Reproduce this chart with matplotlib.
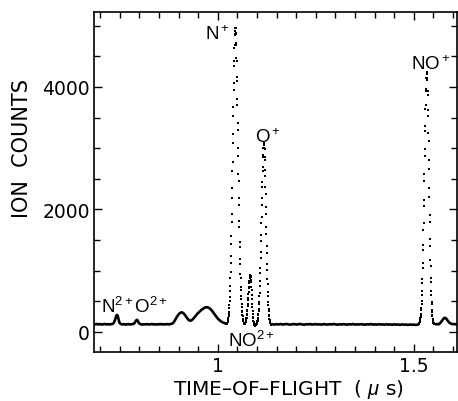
import numpy as np
import matplotlib
matplotlib.use('Agg')
import matplotlib.pyplot as plt
from matplotlib.ticker import MultipleLocator

plt.rcParams['font.family'] = ['DejaVu Sans']
plt.rcParams['mathtext.fontset'] = 'custom'
plt.rcParams['mathtext.rm'] = 'Liberation Sans'
plt.rcParams['mathtext.it'] = 'Liberation Sans:italic'

# slow part of the trace, drawn as a thick line (time in us, counts)
# left of N+ : N2+, O2+ and the two broad bumps
left_t = [0.684, 0.688, 0.692, 0.696, 0.700, 0.704, 0.708, 0.712, 0.716, 0.720,
          0.724, 0.728, 0.732, 0.735, 0.738, 0.741, 0.743, 0.745, 0.747, 0.749,
          0.752, 0.756, 0.760, 0.764, 0.768, 0.772, 0.776, 0.780, 0.784, 0.787,
          0.790, 0.793, 0.795, 0.797, 0.800, 0.804, 0.808, 0.812, 0.816, 0.820,
          0.824, 0.828, 0.832, 0.836, 0.840, 0.844, 0.848, 0.852, 0.856, 0.860,
          0.864, 0.868, 0.872, 0.876, 0.880, 0.884, 0.888, 0.892, 0.896, 0.900,
          0.904, 0.908, 0.912, 0.916, 0.920, 0.924, 0.928, 0.932, 0.936, 0.940,
          0.944, 0.948, 0.952, 0.956, 0.960, 0.964, 0.968, 0.972, 0.976, 0.980,
          0.984, 0.988, 0.992, 0.996, 1.000, 1.004, 1.008, 1.012, 1.016, 1.020]
left_c = [125, 122, 128, 120, 126, 118, 124, 127, 121, 125,
          119, 126, 130, 150, 200, 262, 276, 250, 195, 150,
          128, 120, 125, 118, 122, 126, 119, 124, 127, 140,
          170, 195, 190, 160, 132, 122, 118, 124, 121, 126,
          119, 123, 127, 120, 124, 118, 125, 121, 127, 119,
          124, 122, 126, 121, 128, 135, 160, 205, 250, 285,
          310, 318, 305, 275, 238, 203, 182, 185, 205, 235,
          265, 295, 322, 345, 368, 385, 398, 402, 395, 378,
          352, 318, 282, 248, 215, 190, 170, 155, 146, 135]

# flat stretch between O+ and NO+
mid_t = [1.140, 1.145, 1.150, 1.155, 1.160, 1.165, 1.170, 1.175, 1.180, 1.185,
         1.190, 1.195, 1.200, 1.205, 1.210, 1.215, 1.220, 1.225, 1.230, 1.235,
         1.240, 1.245, 1.250, 1.255, 1.260, 1.265, 1.270, 1.275, 1.280, 1.285,
         1.290, 1.295, 1.300, 1.305, 1.310, 1.315, 1.320, 1.325, 1.330, 1.335,
         1.340, 1.345, 1.350, 1.355, 1.360, 1.365, 1.370, 1.375, 1.380, 1.385,
         1.390, 1.395, 1.400, 1.405, 1.410, 1.415, 1.420, 1.425, 1.430, 1.435,
         1.440, 1.445, 1.450, 1.455, 1.460, 1.465, 1.470, 1.475, 1.480, 1.485,
         1.490, 1.495, 1.500, 1.505, 1.510]
mid_c = [122, 118, 125, 120, 127, 119, 123, 128, 121, 117,
         124, 126, 119, 123, 128, 120, 116, 124, 121, 127,
         118, 122, 125, 119, 123, 117, 126, 121, 118, 124,
         120, 127, 122, 116, 123, 119, 125, 121, 117, 124,
         120, 126, 118, 122, 119, 125, 121, 116, 123, 120,
         126, 118, 122, 117, 124, 119, 121, 116, 123, 118,
         120, 115, 122, 117, 119, 114, 121, 116, 118, 113,
         119, 115, 117, 112, 118]

# tail after NO+
right_t = [1.5575, 1.5600, 1.5625, 1.5650, 1.5675, 1.5700, 1.5725, 1.5750,
           1.5775, 1.5800, 1.5825, 1.5850, 1.5875, 1.5900, 1.5925, 1.5950,
           1.5975, 1.6000, 1.6025, 1.6050, 1.6075, 1.6100, 1.6130]
right_c = [124, 128, 121, 130, 145, 165, 188, 210,
           226, 228, 215, 195, 172, 152, 140, 132,
           128, 124, 127, 122, 125, 121, 124]

# fast peaks, one count per time channel
bin_width = 0.0005
cluster_t0 = 1.0220   # N+, NO2+, O+
cluster_c = [128, 126, 127, 131, 136, 143, 156, 165, 186, 203,
             232, 255, 298, 328, 386, 434, 510, 568, 672, 746,
             874, 970, 1131, 1242, 1436, 1561, 1795, 1932, 2190, 2342,
             2630, 2781, 3085, 3228, 3531, 3667, 3958, 4072, 4336, 4421,
             4640, 4690, 4856, 4860, 4965, 4915, 4970, 4870, 4880, 4712,
             4690, 4480, 4420, 4170, 4090, 3810, 3700, 3410, 3300, 3000,
             2870, 2580, 2460, 2180, 2070, 1810, 1710, 1475, 1390, 1190,
             1105, 945, 875, 740, 682, 578, 530, 448, 412, 347,
             322, 270, 255, 214, 208, 176, 172, 148, 149, 132,
             138, 124, 130, 122, 131, 126, 137, 139, 152, 156,
             176, 188, 218, 232, 270, 290, 336, 364, 418, 450,
             512, 546, 612, 645, 712, 740, 802, 823, 873, 884,
             920, 914, 935, 916, 902, 848, 812, 734, 682, 596,
             540, 456, 408, 336, 298, 242, 218, 180, 168, 140,
             136, 117, 118, 106, 112, 101, 109, 100, 110, 104,
             113, 106, 120, 116, 131, 127, 147, 148, 174, 181,
             214, 225, 268, 290, 347, 378, 448, 492, 582, 641,
             755, 826, 962, 1048, 1205, 1302, 1480, 1582, 1772, 1880,
             2075, 2178, 2368, 2455, 2635, 2700, 2850, 2890, 3005, 3010,
             3085, 3050, 3075, 3000, 2985, 2860, 2800, 2640, 2550, 2360,
             2250, 2045, 1925, 1720, 1600, 1400, 1290, 1115, 1015, 865,
             780, 655, 592, 492, 443, 368, 334, 276, 252, 210,
             196, 166, 160, 140, 136, 124, 126, 118, 120, 116, 121]
no_t0 = 1.5120        # NO+
no_c = [129, 134, 133, 143, 146, 158, 163, 181, 190, 219,
        236, 274, 296, 350, 386, 462, 505, 604, 660, 792,
        870, 1035, 1120, 1330, 1425, 1665, 1780, 2050, 2160, 2460,
        2570, 2880, 2980, 3280, 3370, 3640, 3710, 3940, 3970, 4140,
        4150, 4250, 4215, 4250, 4140, 4120, 3940, 3870, 3630, 3520,
        3240, 3110, 2800, 2660, 2350, 2210, 1910, 1790, 1510, 1400,
        1170, 1075, 885, 808, 660, 597, 490, 446, 362, 330,
        274, 254, 214, 203, 176, 169, 150, 149, 136, 137,
        129, 131, 124, 128, 121, 124]

labels = ['N$^+$', 'O$^+$', 'NO$^+$', 'N$^{2+}$O$^{2+}$', 'NO$^{2+}$']
label_pos = [(0.967, 4784), (1.0944, 3102), (1.4924, 4294),
             (0.7016, 327), (1.0255, -229)]

fig = plt.figure(figsize=(4.58, 4.02), dpi=100)
ax = fig.add_axes([0.2052, 0.1219, 0.7926, 0.8458])

for t, c in [(left_t, left_c), (mid_t, mid_c), (right_t, right_c)]:
    ax.plot(t, c, color='k', lw=1.9)

for t0, c in [(cluster_t0, cluster_c), (no_t0, no_c)]:
    t = t0 + bin_width * np.arange(len(c))
    ax.plot(t, c, ls='none', marker='s', ms=1.6, mew=0, color='k')

for s, (x, y) in zip(labels, label_pos):
    ax.text(x, y, s, fontsize=13.5, ha='left', va='baseline',
            family='Liberation Sans')

ax.set_xlim(0.684, 1.61)
ax.set_ylim(-330, 5225)
ax.set_xticks([1.0, 1.5])
ax.set_xticklabels(['1', '1.5'])
ax.set_yticks([0, 2000, 4000])
ax.xaxis.set_minor_locator(MultipleLocator(0.05))
ax.yaxis.set_minor_locator(MultipleLocator(500))
ax.tick_params(which='both', direction='in', top=True, right=True,
               labelsize=13.5, width=1, pad=3)
ax.tick_params(which='major', length=6)
ax.tick_params(which='minor', length=4)
for sp in ax.spines.values():
    sp.set_linewidth(1.2)

ax.set_xlabel('TIME\u2013OF\u2013FLIGHT  ( $\\mu$ s)', fontsize=14.5)
ax.set_ylabel('ION  COUNTS', fontsize=15)
ax.xaxis.set_label_coords(0.536, -0.074)
ax.yaxis.set_label_coords(-0.171, 0.6)

fig.savefig('out.png', dpi=100)
